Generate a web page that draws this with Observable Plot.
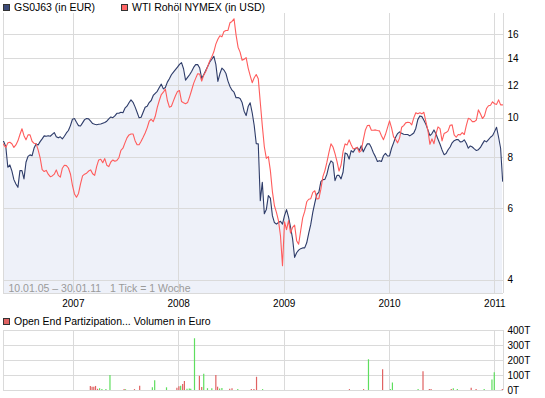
<!DOCTYPE html>
<html><head><meta charset="utf-8">
<script src="https://cdn.jsdelivr.net/npm/d3@7"></script>
<script src="https://cdn.jsdelivr.net/npm/@observablehq/plot@0.6"></script>
<style>
body{margin:0;background:#fff;}
#root{position:relative;width:545px;height:398px;overflow:hidden;font-family:"Liberation Sans",Arial,sans-serif;background:#fff;}
.lg{position:absolute;font-size:10.5px;line-height:12px;color:#000;white-space:nowrap;}
.sq{position:absolute;width:5px;height:5px;border:1px solid #333;}
#root svg{position:absolute;left:0;}
</style></head><body><div id="root"></div>
<script>
// ---- data ----
const seriesNames = ["GS0J63 (in EUR)", "WTI Rohöl NYMEX (in USD)"];
const volumeName = "Open End Partizipation... Volumen in Euro";
const caption = "10.01.05 \u2013 30.01.11   1 Tick = 1 Woche";
const startDate = "2006-04-28";   // first weekly tick
const stepDays = 7;               // 1 Tick = 1 Woche
const gsValues = [
8.77, 8.75, 8.50, 7.57, 7.67, 7.42, 7.06, 6.89, 6.76, 7.43,
7.43, 7.09, 7.79, 8.05, 8.12, 8.08, 8.44, 8.64, 8.59, 8.75,
8.89, 9.04, 9.02, 9.05, 9.02, 9.12, 9.21, 9.00, 8.94, 8.99,
8.89, 9.02, 9.19, 9.32, 9.58, 9.93, 9.97, 9.76, 9.58, 9.56,
9.73, 9.91, 9.97, 9.95, 9.82, 9.69, 9.65, 9.63, 9.65, 9.67,
9.71, 9.75, 9.82, 9.95, 10.06, 10.02, 10.12, 10.27, 10.27, 10.33,
10.30, 10.57, 10.69, 10.90, 11.08, 10.93, 10.65, 10.33, 10.01, 10.04,
10.33, 10.63, 10.69, 10.91, 11.04, 11.36, 11.50, 11.63, 11.88, 12.11,
11.79, 11.88, 12.25, 12.49, 12.77, 12.96, 13.14, 13.33, 13.54, 13.67,
13.21, 12.39, 12.58, 12.77, 13.01, 13.31, 13.52, 13.52, 13.26, 12.51,
12.77, 13.08, 13.39, 13.72, 13.94, 14.18, 13.54, 12.30, 12.84, 13.26,
13.11, 12.86, 12.32, 11.95, 11.70, 11.57, 11.21, 11.23, 11.16, 10.91,
10.39, 10.14, 10.67, 10.90, 10.30, 9.58, 8.65, 8.64, 6.27, 6.95,
5.82, 5.96, 6.45, 6.36, 5.76, 5.54, 5.49, 5.54, 5.58, 5.49,
5.76, 5.96, 5.71, 5.39, 5.05, 4.55, 4.67, 4.74, 4.78, 4.80,
4.80, 4.94, 5.22, 5.48, 5.87, 6.19, 6.50, 6.57, 6.98, 7.06,
7.07, 7.28, 7.64, 7.85, 7.77, 7.02, 7.23, 7.23, 7.09, 7.37,
8.21, 8.16, 7.93, 8.32, 8.24, 8.40, 8.47, 8.32, 8.55, 8.26,
8.47, 8.64, 8.65, 8.46, 8.22, 8.04, 7.82, 7.86, 7.82, 8.08,
8.19, 8.07, 8.07, 8.43, 8.69, 8.97, 9.16, 9.25, 9.17, 9.12,
9.11, 9.11, 9.04, 9.11, 9.19, 9.43, 9.91, 10.12, 10.08, 9.87,
9.65, 9.35, 9.05, 9.16, 9.35, 9.14, 8.87, 8.62, 8.35, 8.13,
8.18, 8.36, 8.49, 8.69, 8.80, 8.85, 8.85, 8.74, 8.75, 8.84,
8.67, 8.43, 8.54, 8.49, 8.40, 8.32, 8.36, 8.47, 8.64, 8.80,
8.74, 8.85, 8.97, 9.05, 9.26, 9.49, 8.97, 8.43, 7.00];
const wtiValues = [
8.72, 8.59, 8.47, 8.69, 8.72, 8.65, 8.47, 8.59, 8.79, 9.11,
9.41, 9.05, 8.84, 9.09, 9.09, 8.77, 8.67, 8.65, 8.35, 7.98,
7.47, 7.39, 7.44, 7.28, 7.18, 7.21, 7.28, 7.46, 7.23, 7.16,
7.53, 7.66, 7.64, 7.54, 7.29, 6.83, 6.51, 6.39, 6.53, 6.89,
7.21, 7.28, 7.32, 7.41, 7.46, 7.30, 7.23, 7.61, 7.89, 7.92,
7.77, 7.95, 7.66, 7.60, 7.80, 7.89, 7.83, 7.87, 7.99, 8.33,
8.43, 8.69, 8.94, 9.09, 9.14, 9.14, 8.80, 8.60, 8.60, 8.77,
8.97, 9.19, 9.46, 9.82, 9.93, 9.80, 10.10, 10.62, 11.04, 11.42,
11.57, 11.77, 11.04, 10.63, 10.69, 11.02, 11.34, 11.61, 11.68, 10.98,
10.90, 10.84, 10.91, 11.27, 11.70, 12.16, 12.51, 12.84, 12.82, 12.32,
12.74, 13.01, 13.39, 13.82, 14.13, 14.54, 15.18, 15.61, 15.91, 15.82,
16.31, 16.40, 16.40, 17.13, 17.26, 17.52, 16.00, 14.92, 14.51, 13.86,
13.94, 14.07, 13.26, 12.71, 12.21, 12.55, 12.79, 12.49, 10.93, 9.58,
8.50, 7.96, 8.04, 7.43, 6.60, 6.09, 5.87, 5.60, 5.14, 4.34,
5.56, 5.32, 5.60, 5.22, 5.39, 5.46, 5.00, 4.90, 5.29, 5.69,
5.90, 6.23, 6.32, 6.34, 6.57, 6.63, 6.33, 6.34, 6.69, 7.18,
7.43, 7.79, 8.24, 8.64, 8.49, 8.18, 7.82, 7.41, 7.67, 8.28,
8.64, 8.59, 8.84, 8.60, 8.40, 8.43, 8.47, 8.24, 8.32, 8.84,
9.33, 9.58, 9.60, 9.33, 9.33, 9.35, 9.32, 9.30, 9.05, 8.85,
9.12, 9.47, 9.84, 9.46, 8.99, 8.87, 8.69, 8.94, 9.49, 9.58,
9.73, 9.76, 9.75, 9.62, 10.01, 10.30, 10.24, 10.30, 10.24, 10.33,
9.80, 9.32, 8.62, 8.89, 8.65, 9.14, 9.51, 9.42, 8.79, 9.16,
9.21, 9.30, 9.60, 9.62, 9.09, 8.97, 9.11, 9.09, 9.21, 9.11,
9.58, 9.98, 9.93, 9.80, 9.80, 9.89, 10.47, 10.24, 9.97, 10.12,
10.55, 10.72, 10.75, 10.96, 10.84, 10.80, 11.08, 10.77, 10.77];
const yTicks = [4, 6, 8, 10, 12, 14, 16];
const yearTicks = ["2007-01-01", "2008-01-01", "2009-01-01", "2010-01-01", "2011-01-01"];
const xRange = ["2006-05-04", "2011-01-31"];
const yRange = [3.71, 18.05];
const volDates = ["2007-03-01","2007-03-07","2007-03-13","2007-03-19","2007-03-26","2007-04-02","2007-04-10","2007-04-24","2007-05-08","2007-06-26",
"2007-07-01","2007-08-01","2007-08-19","2007-10-02","2007-10-10","2007-11-20","2007-12-26","2008-01-02","2008-01-08","2008-01-15",
"2008-01-21","2008-01-30","2008-02-07","2008-02-12","2008-02-25","2008-03-13","2008-03-21","2008-03-28","2008-04-10","2008-04-25",
"2008-05-09","2008-05-15","2008-05-22","2008-05-30","2008-06-26","2008-07-04","2008-07-24","2008-09-09","2008-09-18","2008-09-27",
"2008-10-18","2009-08-15","2009-10-03","2009-10-20","2009-12-08","2010-01-04","2010-01-11","2010-04-10","2010-04-27","2010-05-19",
"2010-05-25","2010-08-03","2010-08-10","2010-08-24","2010-10-11","2010-10-28","2010-11-25","2010-12-22","2010-12-30","2011-01-27"];
const volValues = [27,22,22,27,8,12,6,6,100,6,
5,6,28,18,65,18,15,25,28,40,
60,8,10,8,345,95,20,108,12,12,
100,22,10,14,8,12,6,6,6,88,
6,6,6,205,138,6,50,6,125,6,
6,6,12,6,15,6,6,70,118,6];
const volDir = ["d","d","d","d","d","u","u","u","u","d",
"u","d","d","u","u","u","d","d","u","d",
"d","u","u","u","u","d","d","u","u","u",
"d","d","u","u","d","d","u","d","d","d",
"u","d","d","u","d","u","u","u","d","d",
"d","d","u","u","d","d","u","u","u","d"];
const volTicks = [0, 100, 200, 300, 400];

// ---- styles ----
const C = {blue:"#2e3c69", red:"#ff5c5c", area:"#eef1f9", grid:"#dadada", caption:"#9a9a9a",
  volRed:"#e06262", volGreen:"#5ede5e", font:'"Liberation Sans", Arial, sans-serif'};

const parse = d3.utcParse("%Y-%m-%d");
const xDomain = xRange.map(parse);
const years = yearTicks.map(parse);
const series = gsValues.map((v, i) => ({date: d3.utcDay.offset(parse(startDate), i * stepDays), gs: v, wti: wtiValues[i]}));
const vol = volDates.map((d, i) => ({date: parse(d), v: volValues[i], dir: volDir[i]}));

const root = document.getElementById("root");

const main = Plot.plot({
  width: 545, height: 310, marginTop: 13, marginBottom: 17, marginLeft: 3, marginRight: 42,
  style: {fontFamily: C.font, fontSize: "10px", background: "transparent", color: "#000", overflow: "visible"},
  x: {type: "utc", domain: xDomain},
  y: {type: "log", domain: yRange},
  marks: [
    Plot.areaY(series, {x: "date", y1: yRange[0], y2: "gs", fill: C.area, clip: true}),
    Plot.ruleY(yTicks, {stroke: C.grid, shapeRendering: "crispEdges"}),
    Plot.ruleX(years, {stroke: C.grid, shapeRendering: "crispEdges"}),
    Plot.ruleX(xDomain, {stroke: C.grid, shapeRendering: "crispEdges"}),
    Plot.ruleY([yRange[0]], {stroke: C.grid, shapeRendering: "crispEdges"}),
    Plot.text([caption], {frameAnchor: "bottom-left", dx: 5, dy: -2, textAnchor: "start", lineAnchor: "bottom", fill: C.caption, fontSize: 10.5}),
    Plot.lineY(series, {x: "date", y: "gs", stroke: C.blue, strokeWidth: 1.1, clip: true}),
    Plot.lineY(series, {x: "date", y: "wti", stroke: C.red, strokeWidth: 1.1, clip: true}),
    Plot.axisY(yTicks, {anchor: "right", tickSize: 0, tickPadding: 4, label: null, tickFormat: d => String(d)}),
    Plot.axisX(years, {anchor: "bottom", tickSize: 0, tickPadding: 6, label: null, tickFormat: d3.utcFormat("%Y")})
  ]
});
main.style.top = "0px";
root.appendChild(main);

const volPlot = Plot.plot({
  width: 545, height: 80, marginTop: 12, marginBottom: 8, marginLeft: 3, marginRight: 42,
  style: {fontFamily: C.font, fontSize: "10px", background: "transparent", color: "#000", overflow: "visible"},
  x: {type: "utc", domain: xDomain, axis: null},
  y: {domain: [0, 400]},
  marks: [
    Plot.ruleY(volTicks, {stroke: C.grid, shapeRendering: "crispEdges"}),
    Plot.ruleX(years, {stroke: C.grid, shapeRendering: "crispEdges"}),
    Plot.ruleX(xDomain, {stroke: C.grid, shapeRendering: "crispEdges"}),
    Plot.ruleX(vol.filter(d => d.dir === "d"), {x: "date", y1: 0, y2: "v", stroke: C.volRed, strokeWidth: 1.2}),
    Plot.ruleX(vol.filter(d => d.dir === "u"), {x: "date", y1: 0, y2: "v", stroke: C.volGreen, strokeWidth: 1.2}),
    Plot.axisY(volTicks, {anchor: "right", tickSize: 0, tickPadding: 4, label: null, tickFormat: d => d + "T"})
  ]
});
volPlot.style.top = "318px";
root.appendChild(volPlot);

function legend(x, y, color, text) {
  const s = document.createElement("div");
  s.className = "sq"; s.style.left = x + "px"; s.style.top = (y + 3) + "px"; s.style.background = color;
  const t = document.createElement("div");
  t.className = "lg"; t.style.left = (x + 11) + "px"; t.style.top = y + "px"; t.textContent = text;
  root.appendChild(s); root.appendChild(t);
}
legend(3, 1, "#3b4a78", seriesNames[0]);
legend(121, 1, "#ff6666", seriesNames[1]);
legend(3, 315, C.volRed, volumeName);
</script></body></html>
